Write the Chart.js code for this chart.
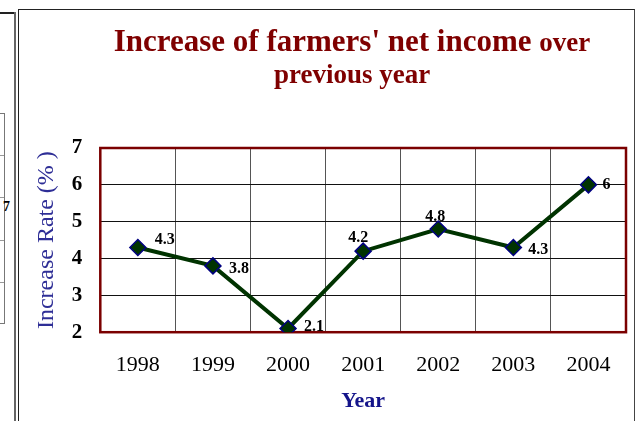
<!DOCTYPE html>
<html>
<head>
<meta charset="utf-8">
<script src="https://cdn.jsdelivr.net/npm/chart.js@4/dist/chart.umd.min.js"></script>
<style>
  html, body { margin: 0; padding: 0; background: #fff; }
  #wrap { position: relative; width: 638px; height: 421px; overflow: hidden; }
  #wrap canvas { position: absolute; left: 0; top: 0; }
  .ln { position: absolute; }
</style>
</head>
<body>
<div id="wrap">
  <!-- restos de la diapositiva vecina, a la izquierda -->
  <div class="ln" style="left:0;top:12px;width:15px;height:1.5px;background:#222"></div>
  <div class="ln" style="left:14px;top:12px;width:2px;height:420px;background:#666"></div>
  <div class="ln" style="left:-2px;top:113px;width:5px;height:209px;border:1px solid #777"></div>
  <div class="ln" style="left:0;top:155px;width:4px;height:1px;background:#999"></div>
  <div class="ln" style="left:0;top:197px;width:4px;height:1px;background:#999"></div>
  <div class="ln" style="left:0;top:240px;width:4px;height:1px;background:#999"></div>
  <div class="ln" style="left:0;top:282px;width:4px;height:1px;background:#999"></div>
  <div class="ln" style="left:3px;top:199px;font:bold 14px 'Liberation Serif',serif;color:#000">7</div>
  <!-- marco del gráfico -->
  <div class="ln" style="left:18px;top:9px;width:615px;height:420px;border-left:1.5px solid #222;border-top:1.5px solid #222;border-right:1.5px solid #444"></div>
  <canvas id="grafico" width="638" height="421"></canvas>
</div>
<script>
// Datos
const years = ['1998', '1999', '2000', '2001', '2002', '2003', '2004'];
const increaseRate = [4.3, 3.8, 2.1, 4.2, 4.8, 4.3, 6];
const yTicks = [2, 3, 4, 5, 6, 7];

const serif = "'Liberation Serif', 'Times New Roman', serif";

// desplazamiento de cada etiqueta respecto a su punto (px)
const labelOffsets = [[27, -8], [26, 3], [26, -2], [-5, -13], [-3, -12], [25, 2], [18, 0]];

// Título con dos tamaños de letra en la primera línea
const titlePlugin = {
    id: 'mixedTitle',
    afterDraw(chart) {
        const ctx = chart.ctx;
        const cx = 352;
        ctx.save();
        ctx.fillStyle = '#7f0000';
        ctx.textBaseline = 'alphabetic';
        ctx.textAlign = 'left';
        const partA = "Increase of farmers' net income ";
        const partB = 'over';
        ctx.font = 'bold 31px ' + serif;
        const wA = ctx.measureText(partA).width;
        ctx.font = 'bold 27px ' + serif;
        const wB = ctx.measureText(partB).width;
        const x0 = cx - (wA + wB) / 2;
        ctx.font = 'bold 31px ' + serif;
        ctx.fillText(partA, x0, 51);
        ctx.font = 'bold 27px ' + serif;
        ctx.fillText(partB, x0 + wA, 51);
        ctx.textAlign = 'center';
        ctx.fillText('previous year', cx, 83);
        ctx.restore();
    }
};

// Borde rojo oscuro alrededor del área del gráfico
const framePlugin = {
    id: 'plotFrame',
    beforeDatasetsDraw(chart) {
        const { ctx, chartArea: a } = chart;
        ctx.save();
        ctx.strokeStyle = '#7b0000';
        ctx.lineWidth = 2.5;
        ctx.strokeRect(a.left, a.top, a.right - a.left, a.bottom - a.top);
        ctx.restore();
    }
};

// Etiquetas de valor junto a cada punto
const valueLabels = {
    id: 'valueLabels',
    afterDatasetsDraw(chart) {
        const ctx = chart.ctx;
        const meta = chart.getDatasetMeta(0);
        ctx.save();
        ctx.font = 'bold 16px ' + serif;
        ctx.fillStyle = '#000';
        ctx.textAlign = 'center';
        ctx.textBaseline = 'middle';
        meta.data.forEach((pt, i) => {
            const off = labelOffsets[i];
            ctx.fillText(String(increaseRate[i]), pt.x + off[0], pt.y + off[1]);
        });
        ctx.restore();
    }
};

new Chart(document.getElementById('grafico').getContext('2d'), {
    type: 'line',
    data: {
        labels: years,
        datasets: [{
            label: 'Increase Rate',
            data: increaseRate,
            borderColor: '#003300',
            borderWidth: 4,
            tension: 0,
            pointStyle: 'rectRot',
            pointRadius: 8,
            pointBackgroundColor: '#003300',
            pointBorderColor: '#000080',
            pointBorderWidth: 1.5
        }]
    },
    options: {
        responsive: false,
        animation: false,
        layout: { padding: { top: 148, right: 12, bottom: 2, left: 28 } },
        plugins: {
            legend: { display: false },
            tooltip: { enabled: false }
        },
        scales: {
            x: {
                offset: true,
                grid: { offset: true, color: '#555', lineWidth: 1, drawTicks: false },
                border: { display: false },
                ticks: {
                    padding: 20,
                    color: '#000',
                    font: { family: serif, size: 22 }
                },
                title: {
                    display: true,
                    text: 'Year',
                    color: '#14148a',
                    font: { family: serif, size: 22, weight: 'bold' },
                    padding: { top: -10, bottom: 4 }
                }
            },
            y: {
                min: yTicks[0],
                max: yTicks[yTicks.length - 1],
                afterBuildTicks: axis => { axis.ticks = yTicks.map(v => ({ value: v })); },
                grid: { color: '#111', lineWidth: 1, drawTicks: false },
                border: { display: false },
                ticks: {
                    padding: 18,
                    color: '#000',
                    font: { family: serif, size: 21, weight: 'bold' }
                },
                title: {
                    display: true,
                    text: 'Increase Rate (% )',
                    color: '#2e2e96',
                    font: { family: serif, size: 24 },
                    padding: { top: 4, bottom: -7 }
                }
            }
        }
    },
    plugins: [framePlugin, valueLabels, titlePlugin]
});
</script>
</body>
</html>
